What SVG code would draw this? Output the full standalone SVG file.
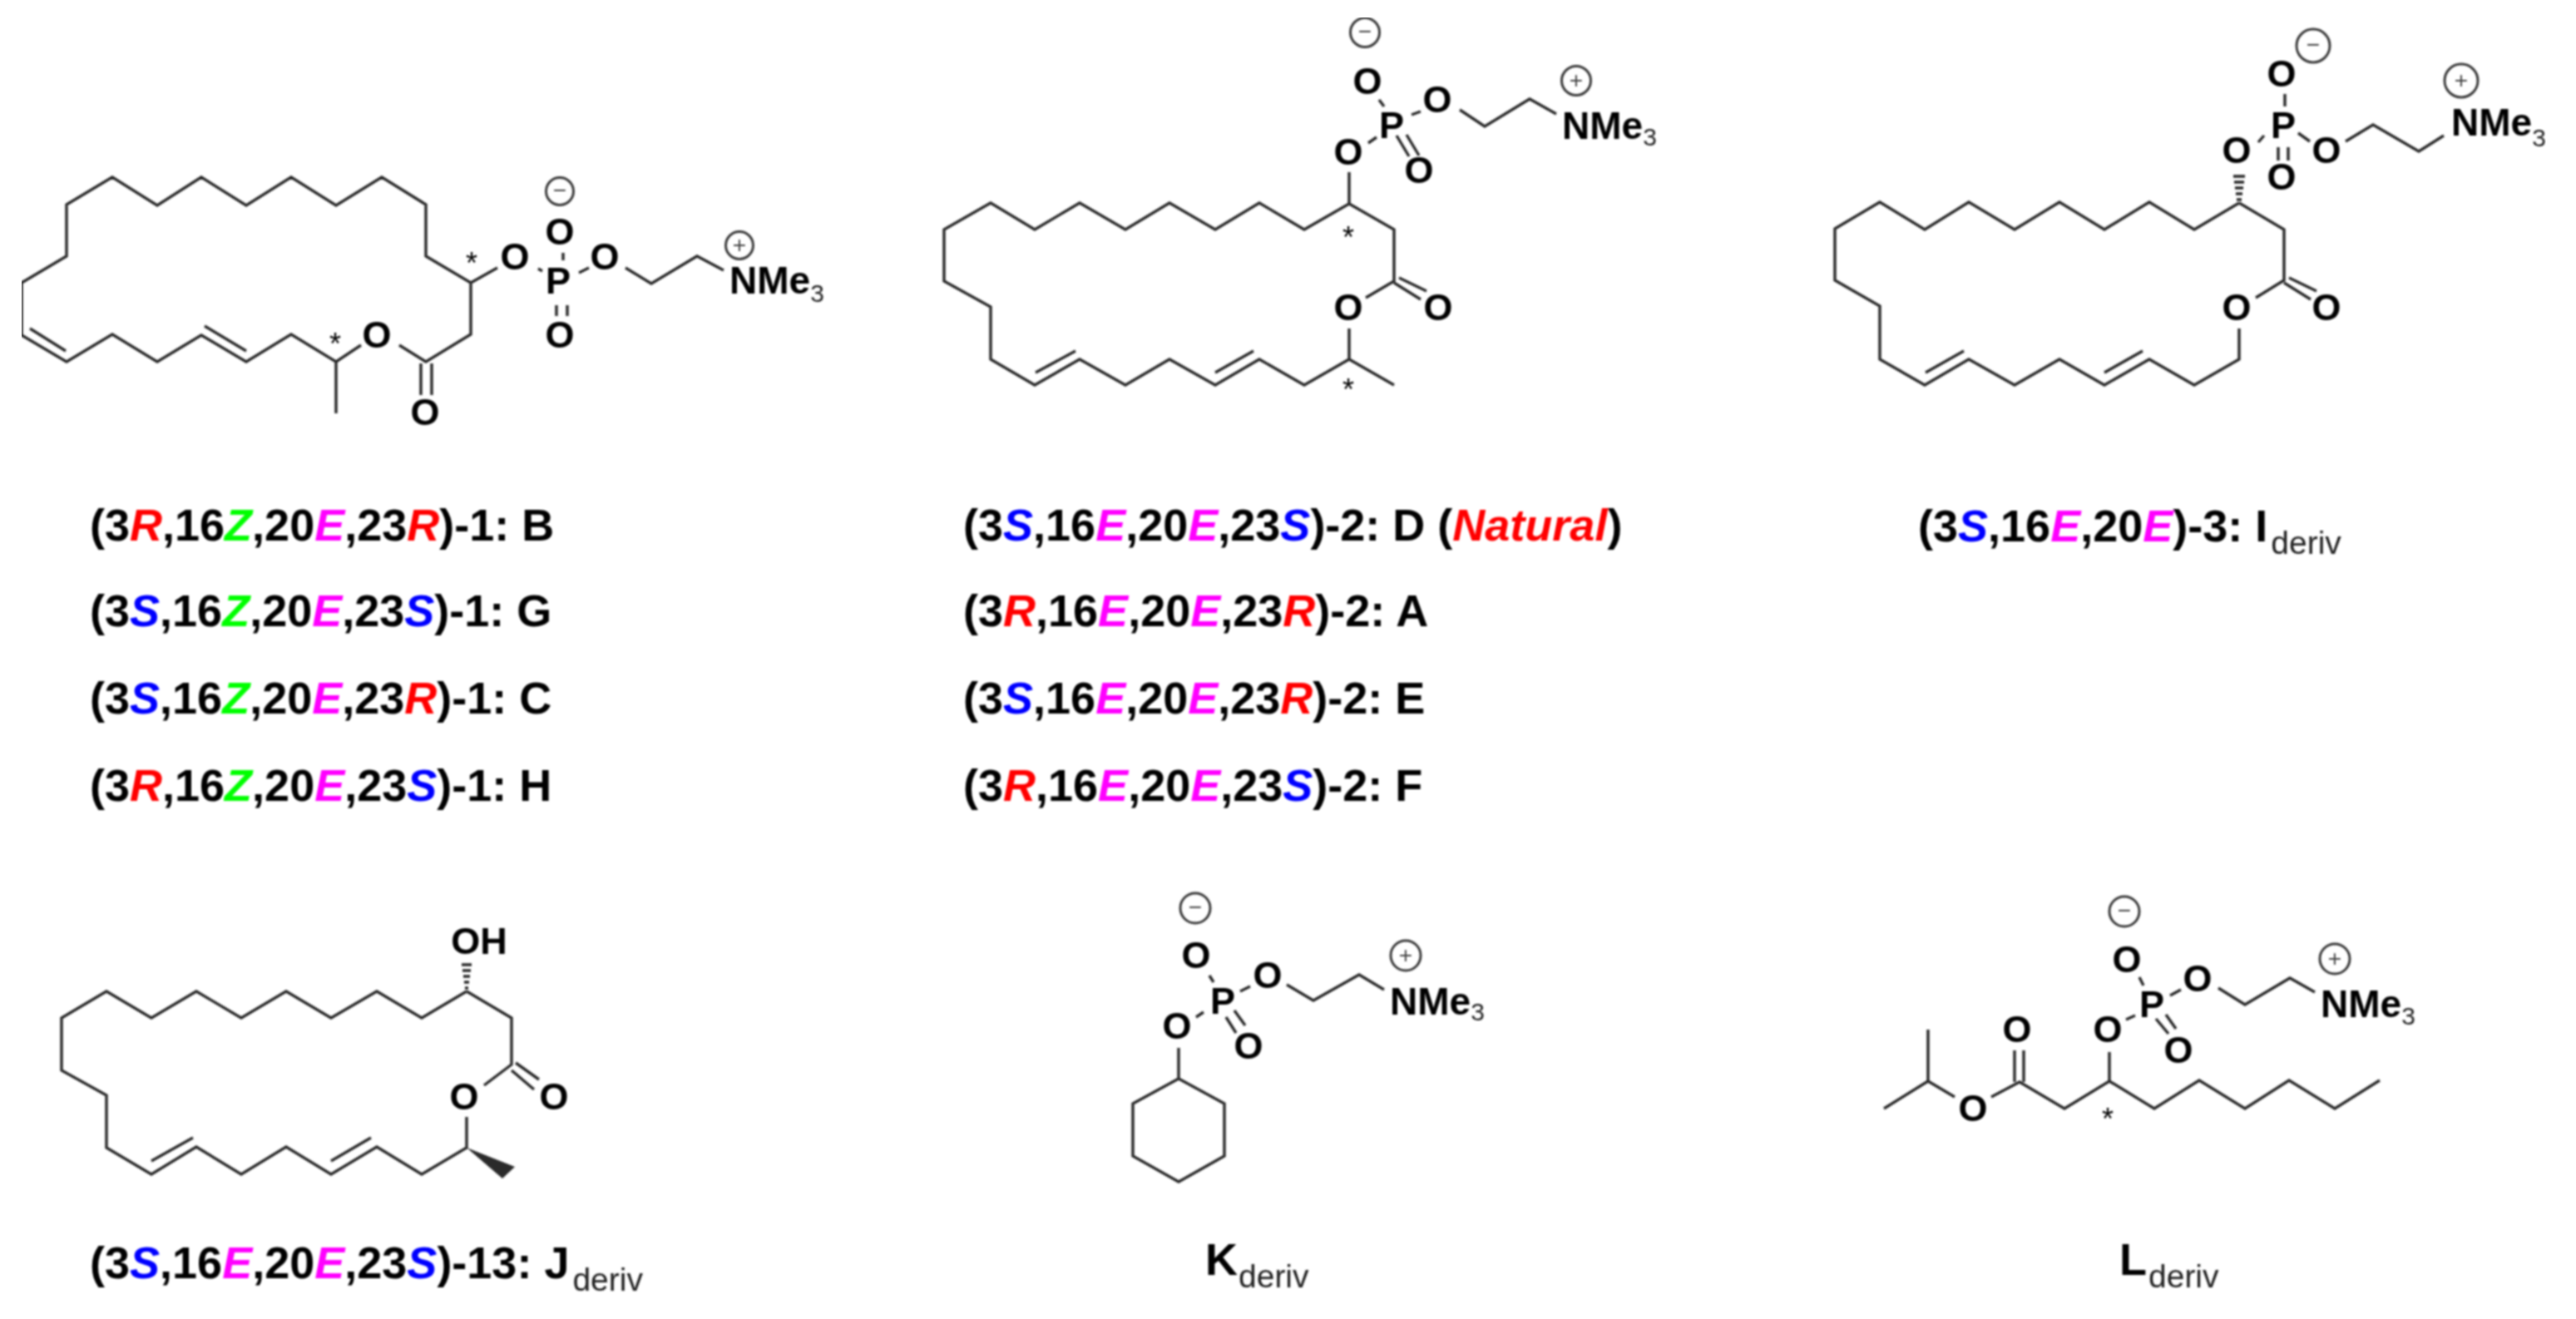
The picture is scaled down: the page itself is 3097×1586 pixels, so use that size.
<svg xmlns="http://www.w3.org/2000/svg" width="3097" height="1586" viewBox="0 0 3097 1586">
<defs>
<style>
text{font-family:"Liberation Sans",Arial,sans-serif;fill:#000}
.b{fill:none;stroke:#2a2a2a;stroke-width:3.4;stroke-linejoin:miter;stroke-linecap:butt}
.a{font-weight:700;font-size:45px;text-anchor:middle}
.n{font-weight:700;font-size:46px}
.n3{font-weight:400;font-size:30px;fill:#222}
.c{fill:none;stroke:#3a3a3a;stroke-width:3}
.q{font-size:28px;text-anchor:middle;fill:#444}
.st{font-size:36px;text-anchor:middle}
.l{font-weight:700;font-size:54px}
.d{font-weight:400;font-size:39px;fill:#222}
.R{fill:#ff0000;font-style:italic}
.S{fill:#0000ff;font-style:italic}
.Z{fill:#00ff00;font-style:italic}
.E{fill:#ff00ff;font-style:italic}
.h{fill:#2a2a2a;stroke:none}
</style>
<filter id="soft" x="0" y="0" width="100%" height="100%"><feGaussianBlur stdDeviation="0.9"/></filter>
</defs>
<rect width="3097" height="1586" fill="#ffffff"/>
<g filter="url(#soft)">

<g id="struct-1">
<path class="b" d="M598 322L566 340L512 308V246L459 213L404 247L350 213L296 247L242 213L189 247L135 213L80 246V308L26 340V403L80 435L135 402L189 435L242 403L296 435L350 402L404 435L434 415M404 435V497M480 415L512 435L566 402V340M36 395L79 422M246 392L296 422M506 437V475M519 437V475M647 323L652 326M677 304V313M669 367V380M682 367V380M696 328L708 322M752 322L783 341L838 308L870 325"/>
<text class="a" x="453" y="418">O</text><text class="a" x="511" y="511">O</text><text class="a" x="619" y="324">O</text><text class="a" x="671" y="353">P</text><text class="a" x="673" y="294">O</text><text class="a" x="673" y="418">O</text><text class="a" x="727" y="324">O</text>
<text class="n" x="877" y="353">NMe<tspan class="n3" dy="10">3</tspan></text>
<circle class="c" cx="673" cy="230" r="16.5"/><text class="q" x="673" y="238">−</text>
<circle class="c" cx="889" cy="295" r="16.5"/><text class="q" x="889" y="304">+</text>
<text class="st" x="567" y="329">*</text><text class="st" x="403" y="426">*</text>
</g>

<g id="struct-2">
<path class="b" d="M1622 207V245L1568 276L1514 244L1461 276L1406 244L1353 276L1298 244L1244 276L1191 244L1135 276V338L1191 369V432L1244 463L1298 432L1353 463L1406 432L1461 463L1514 432L1568 463L1622 432L1676 463M1622 395V432M1622 245L1676 276V338L1642 358M1682 334L1715 350M1676 340L1708 360M1245 448L1293 422M1461 448L1507 422M1645 172L1655 165M1658 120L1664 128M1679 163L1694 188M1691 162L1706 187M1697 138L1708 134M1755 132L1785 152L1839 119L1871 137"/>
<text class="a" x="1621" y="198">O</text><text class="a" x="1673" y="166">P</text><text class="a" x="1644" y="113">O</text><text class="a" x="1706" y="220">O</text><text class="a" x="1728" y="135">O</text><text class="a" x="1621" y="385">O</text><text class="a" x="1729" y="385">O</text>
<text class="n" x="1878" y="167">NMe<tspan class="n3" dy="8">3</tspan></text>
<circle class="c" cx="1641" cy="39" r="17.5"/><text class="q" x="1641" y="47">−</text>
<circle class="c" cx="1895" cy="97" r="17.5"/><text class="q" x="1895" y="106">+</text>
<text class="st" x="1621" y="298">*</text><text class="st" x="1621" y="481">*</text>
</g>

<g id="struct-3">
<path class="b" d="M2692 244L2638 276L2584 243L2530 276L2476 243L2422 276L2367 243L2314 276L2260 243L2206 275V337L2260 368V432L2314 463L2367 432L2422 463L2476 432L2530 463L2584 432L2638 463L2692 432V395M2692 244L2746 276V337L2712 358M2752 334L2785 350M2746 340L2778 360M2315 448L2361 422M2530 448L2576 422M2715 171L2722 163M2747 113V128M2739 177V193M2751 177V193M2763 160L2777 170M2820 170L2853 150L2908 182L2938 163"/>
<path class="b" d="M2689 240H2695M2688 233H2696M2687 226H2697M2686 219H2698M2685 212H2699"/>
<text class="a" x="2689" y="196">O</text><text class="a" x="2745" y="166">P</text><text class="a" x="2743" y="104">O</text><text class="a" x="2743" y="228">O</text><text class="a" x="2797" y="196">O</text><text class="a" x="2689" y="385">O</text><text class="a" x="2797" y="385">O</text>
<text class="n" x="2947" y="163">NMe<tspan class="n3" dy="13">3</tspan></text>
<circle class="c" cx="2781" cy="55" r="20"/><text class="q" x="2781" y="63">−</text>
<circle class="c" cx="2959" cy="97" r="20"/><text class="q" x="2959" y="106">+</text>
</g>

<g id="struct-J">
<path class="b" d="M561 1192L507 1224L453 1192L398 1224L344 1192L290 1224L236 1192L182 1224L128 1192L74 1224V1287L128 1317V1380L182 1412L236 1379L290 1412L344 1379L398 1412L453 1379L507 1412L561 1380V1343M561 1192L615 1224V1280L582 1305M620 1278L648 1298M615 1287L642 1310M182 1396L232 1368M398 1396L446 1368"/>
<path class="h" d="M561 1380L619 1403L604 1417Z"/>
<path class="b" d="M559 1188H563M558 1181H564M557 1174H565M556 1167H566M555 1160H567"/>
<text class="a" x="558" y="1334">O</text><text class="a" x="666" y="1334">O</text>
<text class="a" x="576" y="1147">OH</text>
</g>

<g id="struct-K">
<path class="b" d="M1417 1260V1297L1472 1327V1390L1417 1421L1362 1390V1327L1417 1297M1454 1173L1459 1181M1438 1223L1447 1217M1491 1192L1503 1186M1474 1223L1486 1242M1484 1215L1497 1233M1547 1184L1579 1203L1634 1172L1664 1190"/>
<text class="a" x="1470" y="1219">P</text><text class="a" x="1415" y="1249">O</text><text class="a" x="1438" y="1164">O</text><text class="a" x="1524" y="1188">O</text><text class="a" x="1501" y="1273">O</text>
<text class="n" x="1671" y="1220">NMe<tspan class="n3" dy="7">3</tspan></text>
<circle class="c" cx="1437" cy="1092" r="18"/><text class="q" x="1437" y="1100">−</text>
<circle class="c" cx="1690" cy="1149" r="18"/><text class="q" x="1690" y="1158">+</text>
</g>

<g id="struct-L">
<path class="b" d="M2318 1238V1300L2265 1333M2318 1300L2350 1319M2394 1319L2428 1301L2482 1333L2536 1300L2590 1333L2644 1299L2699 1333L2752 1299L2807 1333L2861 1299M2422 1263V1301M2433 1263V1301M2536 1265V1300M2556 1226L2567 1221M2572 1175L2577 1185M2609 1197L2622 1190M2592 1225L2607 1243M2604 1220L2616 1237M2667 1188L2699 1208L2753 1176L2783 1193"/>
<text class="a" x="2372" y="1348">O</text><text class="a" x="2425" y="1253">O</text><text class="a" x="2534" y="1253">O</text><text class="a" x="2587" y="1223">P</text><text class="a" x="2557" y="1169">O</text><text class="a" x="2642" y="1192">O</text><text class="a" x="2619" y="1278">O</text>
<text class="n" x="2790" y="1223">NMe<tspan class="n3" dy="9">3</tspan></text>
<circle class="c" cx="2554" cy="1096" r="18"/><text class="q" x="2554" y="1104">−</text>
<circle class="c" cx="2807" cy="1153" r="18"/><text class="q" x="2807" y="1162">+</text>
<text class="st" x="2534" y="1358">*</text>
</g>

<g id="labels-1">
<text class="l" x="108" y="650">(3<tspan class="R">R</tspan>,16<tspan class="Z">Z</tspan>,20<tspan class="E">E</tspan>,23<tspan class="R">R</tspan>)-1: B</text>
<text class="l" x="108" y="753">(3<tspan class="S">S</tspan>,16<tspan class="Z">Z</tspan>,20<tspan class="E">E</tspan>,23<tspan class="S">S</tspan>)-1: G</text>
<text class="l" x="108" y="858">(3<tspan class="S">S</tspan>,16<tspan class="Z">Z</tspan>,20<tspan class="E">E</tspan>,23<tspan class="R">R</tspan>)-1: C</text>
<text class="l" x="108" y="963">(3<tspan class="R">R</tspan>,16<tspan class="Z">Z</tspan>,20<tspan class="E">E</tspan>,23<tspan class="S">S</tspan>)-1: H</text>
</g>
<g id="labels-2">
<text class="l" x="1158" y="650">(3<tspan class="S">S</tspan>,16<tspan class="E">E</tspan>,20<tspan class="E">E</tspan>,23<tspan class="S">S</tspan>)-2: D (<tspan class="R">Natural</tspan>)</text>
<text class="l" x="1158" y="753">(3<tspan class="R">R</tspan>,16<tspan class="E">E</tspan>,20<tspan class="E">E</tspan>,23<tspan class="R">R</tspan>)-2: A</text>
<text class="l" x="1158" y="858">(3<tspan class="S">S</tspan>,16<tspan class="E">E</tspan>,20<tspan class="E">E</tspan>,23<tspan class="R">R</tspan>)-2: E</text>
<text class="l" x="1158" y="963">(3<tspan class="R">R</tspan>,16<tspan class="E">E</tspan>,20<tspan class="E">E</tspan>,23<tspan class="S">S</tspan>)-2: F</text>
</g>
<g id="labels-3">
<text class="l" x="2306" y="651">(3<tspan class="S">S</tspan>,16<tspan class="E">E</tspan>,20<tspan class="E">E</tspan>)-3: I<tspan class="d" dx="4" dy="15">deriv</tspan></text>
<text class="l" x="108" y="1537">(3<tspan class="S">S</tspan>,16<tspan class="E">E</tspan>,20<tspan class="E">E</tspan>,23<tspan class="S">S</tspan>)-13: J<tspan class="d" dx="4" dy="15">deriv</tspan></text>
<text class="l" x="1449" y="1533">K<tspan class="d" dx="1" dy="15">deriv</tspan></text>
<text class="l" x="2548" y="1533">L<tspan class="d" dx="2" dy="15">deriv</tspan></text>
</g>
</g>
</svg>
